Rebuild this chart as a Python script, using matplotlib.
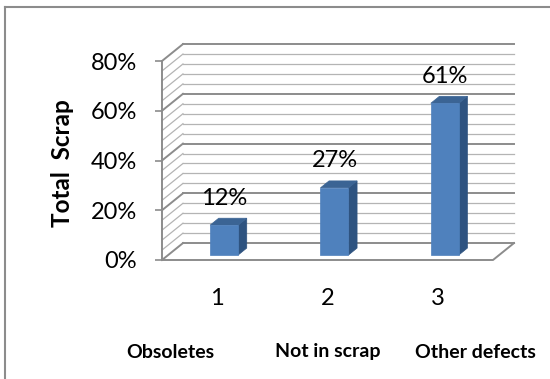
import matplotlib
matplotlib.use("Agg")
import matplotlib.pyplot as plt
from matplotlib.patches import Polygon
from matplotlib.lines import Line2D

# chart data
categories = [1, 2, 3]
category_names = ["Obsoletes", "Not in scrap", "Other defects"]
scrap_pct = [12, 27, 61]
y_ticks = [0, 20, 40, 60, 80]
y_tick_labels = ["0%", "20%", "40%", "60%", "80%"]

plt.rcParams["font.family"] = ["Lato", "DejaVu Sans"]

FRONT = "#4F81BD"
SIDE = "#2E5380"
TOP = "#3B6494"
GRID_MAJOR = "#8C8C8C"
GRID_MINOR = "#B4B4B4"

# depth of the 3-D box (x in category units, y in percent)
DX, DY = 0.19, 6.8
# bar placement inside the box
BAR_W = 0.254
BAR_SHIFT_X, BAR_SHIFT_Y = 0.063, 2.0
BAR_DX, BAR_DY = 0.078, 2.8

fig = plt.figure(figsize=(5.5, 3.79), dpi=100)
ax = fig.add_axes([162 / 550, 119 / 379, 331 / 550, 199 / 379])
x0, x1 = 0.5, 3.5
y0, y1 = 0, 80
ax.set_xlim(x0, x1)
ax.set_ylim(y0, y1)

# back wall and side wall grid lines, every 4 %
for v in range(0, 81, 4):
    major = v % 20 == 0
    c = GRID_MAJOR if major else GRID_MINOR
    lw = 1.4 if major else 0.9
    ax.plot([x0 + DX, x1 + DX], [v + DY, v + DY], color=c, lw=lw,
            clip_on=False, zorder=1)
    ax.plot([x0, x0 + DX], [v, v + DY], color=c, lw=lw,
            clip_on=False, zorder=1)

# floor edges
ax.plot([x0, x1, x1 + DX], [0, 0, DY], color=GRID_MAJOR, lw=1.4,
        clip_on=False, zorder=1)

# bars: side, top, front faces
for c, v in zip(categories, scrap_pct):
    left = c - BAR_W / 2 + BAR_SHIFT_X
    right = left + BAR_W
    base = BAR_SHIFT_Y
    top = base + v
    side = Polygon([(right, base), (right + BAR_DX, base + BAR_DY),
                    (right + BAR_DX, top + BAR_DY), (right, top)],
                   closed=True, facecolor=SIDE, edgecolor=SIDE, lw=0.5,
                   clip_on=False, zorder=3)
    roof = Polygon([(left, top), (right, top),
                    (right + BAR_DX, top + BAR_DY), (left + BAR_DX, top + BAR_DY)],
                   closed=True, facecolor=TOP, edgecolor=TOP, lw=0.5,
                   clip_on=False, zorder=3)
    ax.add_patch(side)
    ax.add_patch(roof)
    ax.bar(left, v, width=BAR_W, bottom=base, align="edge", color=FRONT,
           edgecolor=FRONT, lw=0.5, clip_on=False, zorder=4)
    ax.annotate(f"{v}%", xy=(left + BAR_W / 2, top), xytext=(0, 19.5),
                textcoords="offset points", ha="center", va="center",
                fontsize=17, color="black", zorder=5)

# axes styling
for s in ["top", "right", "bottom"]:
    ax.spines[s].set_visible(False)
ax.spines["left"].set_color(GRID_MAJOR)
ax.spines["left"].set_linewidth(1.4)
ax.set_facecolor("none")
ax.set_yticks(y_ticks)
ax.set_yticklabels(y_tick_labels, fontsize=17)
ax.tick_params(axis="y", length=5, width=1.2, color=GRID_MAJOR, pad=13)
ax.set_xticks(categories)
ax.set_xticklabels([str(c) for c in categories], fontsize=17)
ax.tick_params(axis="x", length=0, pad=20)

fig.text(63 / 550, 1 - 163 / 379, "Total  Scrap", rotation=90, ha="center",
         va="center", fontsize=17.5, fontweight="bold")
name_x = [170, 328, 475]
for nx, name in zip(name_x, category_names):
    fig.text(nx / 550, 1 - 352 / 379, name, ha="center", va="center",
             fontsize=14, fontweight="bold")

# chart frame
fig.add_artist(Line2D([5 / 550, 5 / 550], [0, 1 - 7 / 379],
                      transform=fig.transFigure, color="#8C8C8C", lw=1.5))
fig.add_artist(Line2D([5 / 550, 1], [1 - 7 / 379, 1 - 7 / 379],
                      transform=fig.transFigure, color="#8C8C8C", lw=1.5))

fig.savefig("out.png", dpi=100)
